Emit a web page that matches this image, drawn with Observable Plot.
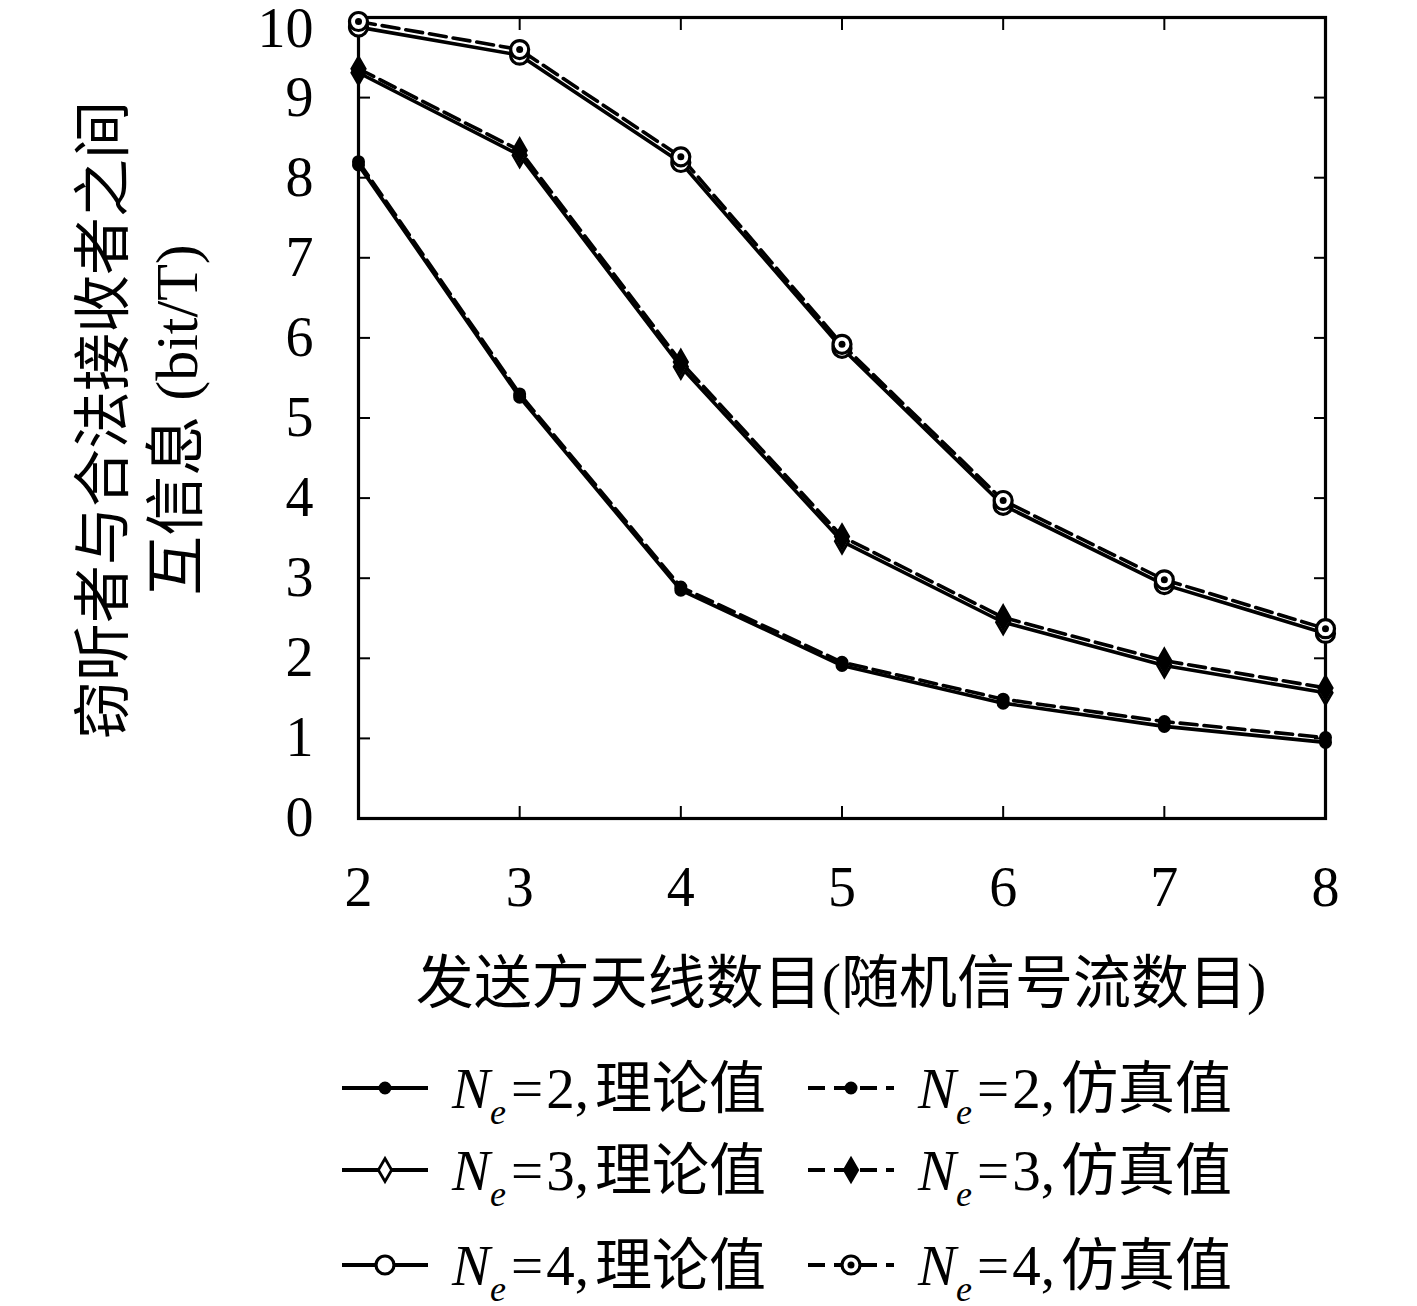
<!DOCTYPE html>
<html><head><meta charset="utf-8">
<script src="https://cdn.jsdelivr.net/npm/d3@7"></script>
<script src="https://cdn.jsdelivr.net/npm/@observablehq/plot@0.6"></script>
<style>
body{margin:0;background:#fff;}
#wrap{position:relative;width:1417px;height:1306px;font-family:"Liberation Serif","Noto Sans CJK SC",serif;color:#000;}
.lrow{position:absolute;left:0;width:1417px;height:80px;}
.item{position:absolute;top:0;height:80px;display:flex;align-items:center;}
.item svg{display:block;}
.item span.t{font-size:57px;white-space:nowrap;margin-left:22px;line-height:1;}
.item span i{font-style:italic;}
.item sub{font-size:36px;vertical-align:-16px;line-height:0;}
.item .eq{margin:0 3px 0 5px;}
.item .cm{margin-right:6px;}
</style></head><body><div id="wrap"></div>
<script>
// ---- data ----
const antennas = [2, 3, 4, 5, 6, 7, 8];
const ne2Theory = [8.16, 5.26, 2.85, 1.91, 1.44, 1.15, 0.95];
const ne2Sim    = [8.20, 5.30, 2.89, 1.95, 1.49, 1.21, 1.01];
const ne3Theory = [9.31, 8.28, 5.64, 3.46, 2.45, 1.91, 1.57];
const ne3Sim    = [9.36, 8.34, 5.70, 3.52, 2.51, 1.97, 1.63];
const ne4Theory = [9.88, 9.53, 8.19, 5.87, 3.91, 2.92, 2.31];
const ne4Sim    = [9.95, 9.60, 8.26, 5.92, 3.97, 2.98, 2.37];
const yTicks = [0, 1, 2, 3, 4, 5, 6, 7, 8, 9, 10];
const xTicks = [2, 3, 4, 5, 6, 7, 8];
const xLabel = "发送方天线数目(随机信号流数目)";
const yLabel1 = "窃听者与合法接收者之间";
const yLabel2 = "互信息 (bit/T)";

const series = [
  {ne: 2, kind: "theory", values: ne2Theory, label: "理论值"},
  {ne: 2, kind: "sim", values: ne2Sim, label: "仿真值"},
  {ne: 3, kind: "theory", values: ne3Theory, label: "理论值"},
  {ne: 3, kind: "sim", values: ne3Sim, label: "仿真值"},
  {ne: 4, kind: "theory", values: ne4Theory, label: "理论值"},
  {ne: 4, kind: "sim", values: ne4Sim, label: "仿真值"}
];
const rows = series.flatMap(s => antennas.map((x, i) => ({x, y: s.values[i], ne: s.ne, kind: s.kind})));

const style = {
  2: {symbol: "circle", r: 5.5, fillT: "#000", fillS: "#000", sw: 2},
  3: {symbol: "diamond", r: 7, fillT: "#fff", fillS: "#000", sw: 2.8},
  4: {symbol: "circle", r: 9, fillT: "#fff", fillS: "#fff", sw: 3.2}
};
const DASH = "17,7";
const LW = 3.6;
const FONT = '"Liberation Serif","Noto Sans CJK SC",serif';

const marks = [
  Plot.frame({stroke: "#000", strokeWidth: 3.2}),
  Plot.axisX({anchor: "bottom", ticks: xTicks, tickFormat: d3.format("d"), tickSize: -12, tickPadding: 60, label: null, strokeWidth: 2, fontSize: 56}),
  Plot.axisX({anchor: "top", ticks: xTicks, tickSize: -12, tickFormat: () => "", label: null, strokeWidth: 2}),
  Plot.axisY({anchor: "left", ticks: yTicks, tickSize: -12, tickFormat: d => d === 10 ? "" : String(d), tickPadding: 57, label: null, strokeWidth: 2, fontSize: 56}),
  Plot.axisY({anchor: "left", ticks: [10], tickSize: 0, tickFormat: d3.format("d"), tickPadding: 45, label: null, dy: 12, fontSize: 56}),
  Plot.axisY({anchor: "right", ticks: yTicks, tickSize: -12, tickFormat: () => "", label: null, strokeWidth: 2})
];
for (const ne of [2, 3, 4]) {
  marks.push(Plot.line(rows.filter(d => d.ne === ne && d.kind === "theory"), {x: "x", y: "y", stroke: "#000", strokeWidth: LW}));
  marks.push(Plot.line(rows.filter(d => d.ne === ne && d.kind === "sim"), {x: "x", y: "y", stroke: "#000", strokeWidth: LW, strokeDasharray: DASH}));
}
for (const ne of [2, 3, 4]) {
  const st = style[ne];
  marks.push(Plot.dot(rows.filter(d => d.ne === ne && d.kind === "theory"), {x: "x", y: "y", symbol: st.symbol, r: st.r, fill: st.fillT, stroke: "#000", strokeWidth: st.sw}));
  marks.push(Plot.dot(rows.filter(d => d.ne === ne && d.kind === "sim"), {x: "x", y: "y", symbol: st.symbol, r: st.r, fill: st.fillS, stroke: "#000", strokeWidth: st.sw}));
  if (ne === 4) marks.push(Plot.dot(rows.filter(d => d.ne === ne && d.kind === "sim"), {x: "x", y: "y", r: 3.5, fill: "#000"}));
}

const chart = Plot.plot({
  width: 1417, height: 1040,
  marginLeft: 358, marginRight: 92, marginTop: 17, marginBottom: 222,
  x: {domain: [2, 8]},
  y: {domain: [0, 10]},
  style: {fontFamily: FONT, fontSize: "56px", color: "#000", background: "#fff", overflow: "visible"},
  marks
});
const wrap = document.getElementById("wrap");
wrap.appendChild(chart);

// axis titles
const svg = d3.select(chart);
svg.append("text").attr("x", 841).attr("y", 990).attr("text-anchor", "middle").attr("dominant-baseline", "middle")
  .style("font-size", "58px").style("font-family", FONT).text(xLabel);
svg.append("text").attr("transform", "translate(110,420) rotate(-90)").attr("text-anchor", "middle").attr("dominant-baseline", "middle")
  .style("font-size", "58px").style("font-family", FONT).text(yLabel1);
svg.append("text").attr("transform", "translate(183,420) rotate(-90)").attr("text-anchor", "middle").attr("dominant-baseline", "middle")
  .style("font-size", "60px").style("font-family", FONT).text(yLabel2);

// legend
const rowTops = [1048, 1130, 1225];
const colLefts = [{sw: 338}, {sw: 804}];
[2, 3, 4].forEach((ne, ri) => {
  const row = document.createElement("div");
  row.className = "lrow";
  row.style.top = rowTops[ri] + "px";
  wrap.appendChild(row);
  ["theory", "sim"].forEach((kind, ci) => {
    const s = series.find(d => d.ne === ne && d.kind === kind);
    const st = style[ne];
    const item = document.createElement("div");
    item.className = "item";
    item.style.left = colLefts[ci].sw + "px";
    const sv = d3.create("svg").attr("width", 92).attr("height", 40);
    sv.append("line").attr("x1", 4).attr("x2", 90).attr("y1", 20).attr("y2", 20)
      .attr("stroke", "#000").attr("stroke-width", 4).attr("stroke-dasharray", kind === "sim" ? "17,9" : null);
    const sym = st.symbol === "diamond" ? d3.symbolDiamond : d3.symbolCircle;
    sv.append("path").attr("transform", "translate(47,20)")
      .attr("d", d3.symbol(sym, Math.PI * st.r * st.r)())
      .attr("fill", kind === "sim" ? st.fillS : st.fillT).attr("stroke", "#000").attr("stroke-width", st.sw);
    if (ne === 4 && kind === "sim") sv.append("circle").attr("cx", 47).attr("cy", 20).attr("r", 3.5).attr("fill", "#000");
    item.appendChild(sv.node());
    const sp = document.createElement("span");
    sp.className = "t";
    sp.innerHTML = `<i>N</i><sub><i>e</i></sub><span class="eq">=</span>${ne}<span class="cm">,</span>${s.label}`;
    item.appendChild(sp);
    row.appendChild(item);
  });
});
</script></body></html>
